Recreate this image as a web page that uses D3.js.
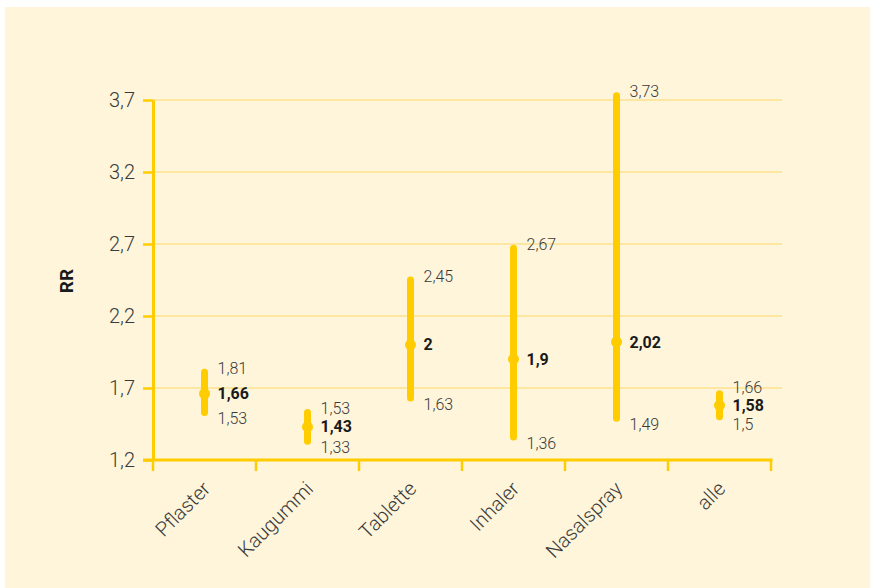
<!DOCTYPE html>
<html>
<head>
<meta charset="utf-8">
<script src="https://cdn.jsdelivr.net/npm/d3@7"></script>
<style>
  html, body { margin: 0; padding: 0; background: #ffffff; }
  svg { display: block; }
  text { font-family: Roboto, "Open Sans", sans-serif; }
</style>
</head>
<body>
<svg id="chart" width="870" height="588"></svg>
<script>
const categories = ["Pflaster", "Kaugummi", "Tablette", "Inhaler", "Nasalspray", "alle"];
const estimates = [1.66, 1.43, 2, 1.9, 2.02, 1.58];
const lowerCI = [1.53, 1.33, 1.63, 1.36, 1.49, 1.5];
const upperCI = [1.81, 1.53, 2.45, 2.67, 3.73, 1.66];
const yTicks = [1.2, 1.7, 2.2, 2.7, 3.2, 3.7];
const yTitle = "RR";

const fmt = v => String(v).replace(".", ",");

const svg = d3.select("#chart");
const W = 870, H = 588;
const yellow = "#FFCC00";
const grid = "#FCE6A2";
const panel = "#FEF5DA";
const textCol = "#3a3a3a";

// panel background
svg.append("rect").attr("x", 5).attr("y", 7).attr("width", W - 5).attr("height", H - 7).attr("fill", panel);

const x = d3.scaleBand().domain(categories).range([153, 771]).padding(0);
const y = d3.scaleLinear().domain([1.2, 3.7]).range([460, 100]);

// gridlines
svg.append("g").selectAll("line").data(yTicks.filter(t => t !== 1.2)).join("line")
  .attr("x1", 153).attr("x2", 782)
  .attr("y1", d => y(d)).attr("y2", d => y(d))
  .attr("stroke", grid).attr("stroke-width", 2);

// y axis
const yAxis = svg.append("g").attr("transform", "translate(153,0)")
  .call(d3.axisLeft(y).tickValues(yTicks).tickFormat(fmt).tickSize(10).tickSizeOuter(0).tickPadding(8));
yAxis.select(".domain").attr("stroke", yellow).attr("stroke-width", 3);
yAxis.selectAll(".tick line").attr("stroke", yellow).attr("stroke-width", 2.5);
yAxis.selectAll(".tick text").attr("fill", textCol).attr("font-size", 20)
  .attr("font-weight", 300).attr("font-family", "Roboto, sans-serif");

// x axis
const xAxisG = svg.append("g");
xAxisG.append("line").attr("x1", 143).attr("x2", x.range()[1] + 1.5)
  .attr("y1", y(1.2)).attr("y2", y(1.2)).attr("stroke", yellow).attr("stroke-width", 3);
const bounds = categories.map(c => x(c)).concat([x.range()[1]]);
xAxisG.selectAll("line.bt").data(bounds).join("line").attr("class", "bt")
  .attr("x1", d => d).attr("x2", d => d)
  .attr("y1", y(1.2)).attr("y2", y(1.2) + 11)
  .attr("stroke", yellow).attr("stroke-width", 2.5);

// category labels
xAxisG.selectAll("text.cat").data(categories).join("text").attr("class", "cat")
  .attr("transform", d => `translate(${x(d) + x.bandwidth() / 2 + 7},${490}) rotate(-45)`)
  .attr("text-anchor", "end")
  .attr("fill", textCol).attr("font-size", 20).attr("font-weight", 300)
  .text(d => d);

// y title
svg.append("text")
  .attr("transform", `translate(73,281) rotate(-90)`)
  .attr("text-anchor", "middle")
  .attr("font-weight", "bold").attr("font-size", 19).attr("fill", "#1a1a1a")
  .text(yTitle);

// error bars
const data = categories.map((c, i) => ({ c, est: estimates[i], lo: lowerCI[i], hi: upperCI[i] }));
const cx = d => x(d.c) + x.bandwidth() / 2;

const marks = svg.append("g");
marks.selectAll("line.ci").data(data).join("line").attr("class", "ci")
  .attr("x1", cx).attr("x2", cx)
  .attr("y1", d => y(d.lo)).attr("y2", d => y(d.hi))
  .attr("stroke", yellow).attr("stroke-width", 7).attr("stroke-linecap", "round");
marks.selectAll("circle").data(data).join("circle")
  .attr("cx", cx).attr("cy", d => y(d.est)).attr("r", 5.5).attr("fill", yellow);

// labels
const lab = svg.append("g");
lab.selectAll("text.hi").data(data).join("text").attr("class", "hi")
  .attr("x", d => cx(d) + 13)
  .attr("y", d => Math.min(y(d.hi) - 4, y(d.est) - 18))
  .attr("dy", "0.35em").attr("font-size", 16).attr("font-weight", 300).attr("fill", textCol)
  .text(d => fmt(d.hi));
lab.selectAll("text.est").data(data).join("text").attr("class", "est")
  .attr("x", d => cx(d) + 13)
  .attr("y", d => y(d.est))
  .attr("dy", "0.35em").attr("font-size", 16).attr("font-weight", "bold").attr("fill", "#1a1a1a")
  .text(d => fmt(d.est));
lab.selectAll("text.lo").data(data).join("text").attr("class", "lo")
  .attr("x", d => cx(d) + 13)
  .attr("y", d => Math.max(y(d.lo) + 6, y(d.est) + 19))
  .attr("dy", "0.35em").attr("font-size", 16).attr("font-weight", 300).attr("fill", textCol)
  .text(d => fmt(d.lo));
</script>
</body>
</html>
